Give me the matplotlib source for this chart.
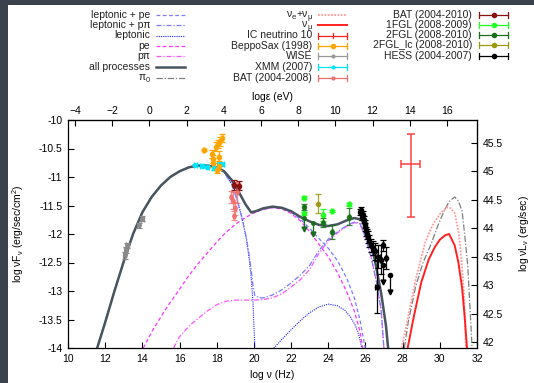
import matplotlib
matplotlib.use('Agg')
import matplotlib.pyplot as plt
from matplotlib.lines import Line2D
from matplotlib.patches import Rectangle
import numpy as np

plt.rcParams['font.family'] = ['Liberation Sans', 'DejaVu Sans']
plt.rcParams['mathtext.fontset'] = 'custom'
plt.rcParams['mathtext.rm'] = 'Liberation Sans'
plt.rcParams['mathtext.it'] = 'Liberation Sans'
plt.rcParams['mathtext.bf'] = 'Liberation Sans:bold'

# ---------------- model curves (log nu [Hz], log nuFnu) ----------------
all_x = [11.57, 12.0, 12.5, 13.0, 13.5, 14.0, 14.5, 15.0, 15.5, 16.0, 16.5, 17.0, 17.5, 18.0, 18.4,
         18.8, 19.2, 19.55, 19.85, 20.1, 20.5, 21.0, 21.5, 22.0, 22.5, 23.0, 23.5, 24.0, 24.5, 25.0,
         25.4, 25.8, 26.1, 26.5, 26.85, 27.1, 27.25]
all_y = [-14.0, -13.55, -13.0, -12.48, -12.0, -11.62, -11.35, -11.15, -11.0, -10.9, -10.83, -10.8, -10.8,
         -10.83, -10.9, -11.05, -11.27, -11.48, -11.62, -11.6, -11.55, -11.52, -11.54, -11.6, -11.7,
         -11.78, -11.84, -11.86, -11.83, -11.76, -11.72, -11.75, -11.95, -12.45, -13.05, -13.6, -14.1]

lep_x = [11.57, 12.0, 12.5, 13.0, 13.5, 14.0, 14.5, 15.0, 15.5, 16.0, 16.5, 17.0, 17.5, 18.0, 18.4,
         18.8, 19.1, 19.4, 19.6, 19.75, 19.85, 19.95, 20.05, 20.15, 20.9, 21.08, 21.5, 22.0, 22.5,
         23.0, 23.5, 24.0, 24.5, 24.9, 25.2, 25.45, 25.65, 25.8, 25.9]
lep_y = [-14.0, -13.55, -13.0, -12.48, -12.0, -11.62, -11.35, -11.15, -11.0, -10.9, -10.83, -10.8, -10.8,
         -10.84, -10.92, -11.12, -11.4, -11.78, -12.1, -12.45, -12.75, -13.2, -14.0, -14.6, -14.6,
         -14.0, -13.85, -13.68, -13.52, -13.38, -13.28, -13.23, -13.26, -13.34, -13.46, -13.6, -13.78,
         -14.0, -14.3]

pe_x = [14.05, 14.5, 15.0, 15.5, 16.0, 16.5, 17.0, 17.5, 18.0, 18.5, 19.0, 19.5, 20.0, 20.5, 21.0,
        21.5, 22.0, 22.5, 23.0, 23.5, 24.0, 24.5, 25.0, 25.4, 25.7, 25.9]
pe_y = [-14.0, -13.72, -13.45, -13.2, -12.97, -12.73, -12.52, -12.33, -12.14, -11.97, -11.83, -11.72,
        -11.63, -11.57, -11.54, -11.56, -11.64, -11.77, -11.96, -12.18, -12.4, -12.68, -13.02, -13.35,
        -13.7, -14.1]

ppi_x = [15.68, 16.0, 16.5, 17.0, 17.5, 18.0, 18.5, 19.0, 19.5, 20.0, 20.5, 21.0, 21.5, 22.0, 22.5,
         23.0, 23.5, 24.0, 24.5, 25.0, 25.4, 25.7, 26.0, 26.3, 26.6, 26.85, 27.0]
ppi_y = [-14.0, -13.8, -13.62, -13.48, -13.35, -13.24, -13.18, -13.16, -13.16, -13.16, -13.15, -13.12,
         -13.05, -12.93, -12.8, -12.62, -12.34, -12.12, -11.98, -11.86, -11.8, -11.82, -12.06, -12.4,
         -12.85, -13.35, -14.05]

lpe_x = [11.57, 12.0, 12.5, 13.0, 13.5, 14.0, 14.5, 15.0, 15.5, 16.0, 16.5, 17.0, 17.5, 18.0, 18.4,
         18.8, 19.2, 19.55, 19.85, 20.1, 20.5, 21.0, 21.5, 22.0, 22.5, 23.0, 23.5, 24.0, 24.5, 25.0,
         25.4, 25.7, 25.9, 26.05]
lpe_y = [-14.0, -13.55, -13.0, -12.48, -12.0, -11.62, -11.35, -11.15, -11.0, -10.9, -10.83, -10.8, -10.8,
         -10.84, -10.91, -11.06, -11.28, -11.49, -11.63, -11.61, -11.56, -11.53, -11.55, -11.62, -11.74,
         -11.9, -12.08, -12.25, -12.47, -12.78, -13.12, -13.5, -13.85, -14.1]

lppi_x = [11.57, 12.0, 12.5, 13.0, 13.5, 14.0, 14.5, 15.0, 15.5, 16.0, 16.5, 17.0, 17.5, 18.0, 18.4,
          18.8, 19.1, 19.4, 19.6, 19.75, 19.85, 19.95, 20.05, 20.3, 20.5, 21.0, 21.5, 22.0, 22.5, 23.0,
          23.5, 24.0, 24.5, 25.0, 25.4, 25.7, 26.0, 26.3, 26.6, 26.85, 27.0]
lppi_y = [-14.0, -13.55, -13.0, -12.48, -12.0, -11.62, -11.35, -11.15, -11.0, -10.9, -10.83, -10.8, -10.8,
          -10.84, -10.92, -11.12, -11.4, -11.77, -12.07, -12.38, -12.62, -12.9, -13.08, -13.12, -13.12,
          -13.07, -12.98, -12.86, -12.72, -12.55, -12.29, -12.09, -11.96, -11.85, -11.79, -11.81, -12.06,
          -12.4, -12.85, -13.35, -14.05]

pi0_x = [28.0, 28.3, 28.7, 29.1, 29.5, 29.9, 30.2, 30.5, 30.8, 31.0, 31.2, 31.35, 31.5, 31.68, 31.75]
pi0_y = [-14.2, -13.55, -12.92, -12.5, -12.2, -11.85, -11.62, -11.43, -11.35, -11.42, -11.6, -12.05,
         -12.55, -13.64, -14.1]

nue_x = [27.95, 28.3, 28.7, 29.2, 29.6, 30.0, 30.38, 30.6, 30.81, 31.0, 31.08, 31.2, 31.3, 31.4]
nue_y = [-14.0, -13.45, -12.8, -12.16, -11.85, -11.65, -11.53, -11.55, -11.64, -11.95, -12.16, -12.6,
         -13.05, -14.0]

numu_x = [28.27, 28.6, 29.0, 29.4, 29.73, 30.0, 30.3, 30.5, 30.8, 31.0, 31.2, 31.35, 31.46]
numu_y = [-14.0, -13.45, -12.85, -12.45, -12.23, -12.1, -12.02, -12.0, -12.2, -12.5, -12.95, -13.5, -14.0]

# ---------------- observational data ----------------
wise_x = [13.05, 13.1, 13.2, 13.8, 14.0]
wise_y = [-12.37, -12.28, -12.2, -11.85, -11.73]
wise_err = [0.06, 0.06, 0.04, 0.04, 0.04]

sax_x = [17.3, 17.75, 17.78, 17.82, 17.95, 18.05, 18.1, 18.12, 18.2, 18.3, 18.02]
sax_y = [-10.53, -10.6, -10.68, -10.75, -10.47, -10.42, -10.65, -10.8, -10.37, -10.32, -10.88]
sax_err = [0.02, 0.07, 0.07, 0.08, 0.08, 0.07, 0.1, 0.08, 0.08, 0.07, 0.05]

xmm_x = [16.85, 17.2, 17.5, 17.85, 18.1, 18.3]
xmm_y = [-10.79, -10.8, -10.82, -10.85, -10.78, -10.78]

bat8_x = [18.75, 18.9, 18.95, 19.1, 19.0]
bat8_y = [-11.35, -11.42, -11.68, -11.27, -11.55]
bat8_err = [0.1, 0.15, 0.08, 0.18, 0.12]

bat10_x = [18.92, 19.22]
bat10_y = [-11.14, -11.15]
bat10_err = [0.08, 0.08]

fgl1_x = [22.7, 22.7, 23.73, 24.2, 25.14]
fgl1_y = [-11.36, -11.64, -11.67, -11.6, -11.48]
fgl1_err = [0.03, 0.03, 0.1, 0.02, 0.03]

fgl2_x = [22.7, 23.73, 24.2, 25.14]
fgl2_y = [-11.53, -11.8, -11.97, -11.7]
fgl2_err = [0.05, 0.08, 0.12, 0.15]
fgl2_ul_x = [22.7, 23.2]
fgl2_ul_y = [-11.72, -11.8]

fgllc_x = [23.46]
fgllc_y = [-11.47]
fgllc_err = [0.17]

hess_x = [25.7, 25.75, 25.8, 25.85, 25.9, 25.95, 26.0, 26.05, 26.1, 26.15, 26.2, 26.3, 26.4, 26.5,
          26.6, 26.7, 26.85, 26.95, 27.1]
hess_y = [-11.62, -11.58, -11.7, -11.66, -11.75, -11.82, -11.88, -11.95, -12.0, -12.05, -12.12, -12.2,
          -12.25, -12.3, -12.93, -12.4, -12.45, -12.2, -12.42]
hess_err = [0.05, 0.05, 0.06, 0.06, 0.06, 0.07, 0.07, 0.08, 0.08, 0.1, 0.1, 0.12, 0.12, 0.15, 0.45,
            0.2, 0.25, 0.1, 0.2]
hess_ul_x = [26.97, 27.3]
hess_ul_y = [-12.55, -12.72]

icn_x = [28.43]
icn_y = [-10.78]
icn_xerr = [0.5]
icn_yerr_lo = [0.92]
icn_yerr_hi = [0.53]

E_OFFSET = 14.383   # log(h / eV s)
L_OFFSET = 55.9     # log(4 pi d^2)

xticks = list(range(10, 33, 2))
yticks = [-14, -13.5, -13, -12.5, -12, -11.5, -11, -10.5, -10]
eticks = list(range(-4, 17, 2))
lticks = [42, 42.5, 43, 43.5, 44, 44.5, 45, 45.5]

# ---------------- figure ----------------
W, H = 534, 383
fig = plt.figure(figsize=(W / 100, H / 100), dpi=100)
fig.patch.set_facecolor('#3a424c')
fig.add_artist(Rectangle((8 / W, 0), 1, (H - 5) / H, transform=fig.transFigure,
                         facecolor='white', edgecolor='none', zorder=-10))
ax = fig.add_axes([68 / W, 1 - 348 / H, (477 - 68) / W, (348 - 120) / H])

C_LPE = '#7b7bff'
C_LEP = '#2222ff'
C_PE = '#ff33ff'
C_PPI = '#ff55ff'
C_ALL = '#46555f'
C_PI0 = '#808080'
C_NUE = '#ff9a9a'
C_NUMU = '#ff2020'

ax.plot(pe_x, pe_y, color=C_PE, ls=(0, (3, 2)), lw=0.9)
ax.plot(ppi_x, ppi_y, color=C_PPI, ls=(0, (4, 1.5, 1, 1.5)), lw=0.9)
ax.plot(lep_x, lep_y, color=C_LEP, ls=(0, (1, 1)), lw=0.8)
ax.plot(lpe_x, lpe_y, color=C_LPE, ls=(0, (3, 2)), lw=0.9)
ax.plot(lppi_x, lppi_y, color=C_LPE, ls=(0, (4, 1.5, 1, 1.5)), lw=0.9)
ax.plot(all_x, all_y, color=C_ALL, lw=1.8, zorder=3)
ax.plot(pi0_x, pi0_y, color=C_PI0, ls=(0, (5, 1.5, 1, 1.5)), lw=0.9)
ax.plot(nue_x, nue_y, color=C_NUE, ls=(0, (1, 0.8)), lw=1.3)
ax.plot(numu_x, numu_y, color=C_NUMU, lw=1.4)

def eb(x, y, yerr, color, ms=3, xerr=None, alpha=1.0, marker='o'):
    ax.errorbar(x, y, yerr=yerr, xerr=xerr, fmt=marker, color=color, ms=ms, lw=0.9,
                capsize=2.5, capthick=0.9, alpha=alpha, zorder=5)

eb(wise_x, wise_y, wise_err, '#8a8a8a', ms=2.5, xerr=0.08)
eb(xmm_x, xmm_y, 0.02, '#00e5ff', ms=2.5, xerr=0.08)
eb(sax_x, sax_y, sax_err, '#ffa500', ms=3, xerr=0.03)
eb(bat8_x, bat8_y, bat8_err, '#f07070', ms=2.5, xerr=0.05, alpha=0.8)
eb(bat10_x, bat10_y, bat10_err, '#8b1010', ms=3, xerr=0.05)
eb(fgl1_x, fgl1_y, fgl1_err, '#22ff22', ms=3, xerr=0.05)
eb(fgl2_x, fgl2_y, fgl2_err, '#1a6e1a', ms=3, xerr=0.05, alpha=0.85)
ax.errorbar(fgl2_ul_x, fgl2_ul_y, yerr=[[0.2] * len(fgl2_ul_x), [0] * len(fgl2_ul_x)],
            fmt='o', color='#1a6e1a', ms=2.5, lw=0.9, zorder=5)
ax.plot(fgl2_ul_x, np.array(fgl2_ul_y) - 0.2, 'v', color='#1a6e1a', ms=3.5, zorder=5)
eb(fgllc_x, fgllc_y, fgllc_err, '#9a9a10', ms=3, alpha=0.9)
eb(hess_x, hess_y, hess_err, '#000000', ms=3, xerr=0.06)
ax.errorbar(hess_ul_x, hess_ul_y, yerr=[[0.3] * len(hess_ul_x), [0] * len(hess_ul_x)],
            fmt='o', color='black', ms=3, lw=0.9, zorder=5)
ax.plot(hess_ul_x, np.array(hess_ul_y) - 0.3, 'v', color='black', ms=3.5, zorder=5)
ax.errorbar(icn_x, icn_y, xerr=icn_xerr, yerr=[icn_yerr_lo, icn_yerr_hi], fmt='none',
            color='#ff4040', lw=1.1, capsize=3, capthick=1.1, zorder=5)

ax.set_xlim(10, 32)
ax.set_ylim(-14, -10)
ax.set_xticks(xticks)
ax.set_yticks(yticks)
ax.set_yticklabels(['-14', '-13.5', '-13', '-12.5', '-12', '-11.5', '-11', '-10.5', '-10'])
ax.tick_params(direction='in', length=4, width=0.8, labelsize=7.5, top=False, right=False, pad=4)
for s in ax.spines.values():
    s.set_linewidth(0.9)
ax.set_xlabel('log ν (Hz)', fontsize=7.5, labelpad=5)
ax.set_ylabel(r'log νF$_ν$ (erg/sec/cm$^2$)', fontsize=7.5)
ax.yaxis.set_label_coords(-0.103, 0.5)

secx = ax.secondary_xaxis('top', functions=(lambda x: x - E_OFFSET, lambda x: x + E_OFFSET))
secx.set_xticks(eticks)
secx.tick_params(direction='in', length=4, width=0.8, labelsize=7.5, pad=3)
secx.set_xlabel('logε (eV)', fontsize=7.5, labelpad=4)

secy = ax.secondary_yaxis('right', functions=(lambda y: y + L_OFFSET, lambda y: y - L_OFFSET))
secy.set_yticks(lticks)
secy.set_yticklabels(['42', '42.5', '43', '43.5', '44', '44.5', '45', '45.5'])
secy.tick_params(direction='in', length=4, width=0.8, labelsize=7.5, pad=4)
secy.set_ylabel(r'log νL$_ν$ (erg/sec)', fontsize=7.5, labelpad=10)

# ---------------- legend (drawn by hand, gnuplot style) ----------------
renderer = fig.canvas.get_renderer()

def fx(px):
    return px / W

def fy(py):
    return 1 - py / H

def leg_text(xr, y, s, size=7.5):
    fig.text(fx(xr), fy(y), s, ha='right', va='center', fontsize=size, color='#222222')

def leg_rich(xr, y, pieces):
    """pieces: list of (text, fontsize, baseline drop in px); right aligned at xr."""
    base = y + 3.0
    x = xr
    for s, size, drop in reversed(pieces):
        t = fig.text(fx(x), fy(base + drop), s, ha='right', va='baseline', fontsize=size,
                     color='#222222')
        w = t.get_window_extent(renderer).width
        x -= w

def leg_line(xr, y, color, ls='-', lw=0.9):
    fig.add_artist(Line2D([fx(xr - 29), fx(xr)], [fy(y), fy(y)], color=color, ls=ls, lw=lw,
                          transform=fig.transFigure))

def leg_err(xr, y, color, marker='o', ms=3):
    fig.add_artist(Line2D([fx(xr - 29), fx(xr)], [fy(y), fy(y)], color=color, lw=0.9,
                          transform=fig.transFigure))
    for xc in (xr - 29, xr):
        fig.add_artist(Line2D([fx(xc), fx(xc)], [fy(y - 3), fy(y + 3)], color=color, lw=0.9,
                              transform=fig.transFigure))
    if marker == '|':
        fig.add_artist(Line2D([fx(xr - 14.5), fx(xr - 14.5)], [fy(y - 2.5), fy(y + 2.5)], color=color,
                              lw=0.9, transform=fig.transFigure))
    else:
        fig.add_artist(Line2D([fx(xr - 14.5)], [fy(y)], color=color, marker=marker, ms=ms,
                              transform=fig.transFigure))

rows = [15, 25.3, 35.5, 45.7, 56, 67, 77.7]
c1_text, c1_line = 150, 185
leg_text(c1_text, rows[0], 'leptonic + pe'); leg_line(c1_line, rows[0], C_LPE, (0, (3, 2)))
leg_text(c1_text, rows[1], 'leptonic + pπ'); leg_line(c1_line, rows[1], C_LPE, (0, (4, 1.5, 1, 1.5)))
leg_text(c1_text, rows[2], 'leptonic'); leg_line(c1_line, rows[2], C_LEP, (0, (1, 1)), 0.8)
leg_text(c1_text, rows[3], 'pe'); leg_line(c1_line, rows[3], C_PE, (0, (3, 2)))
leg_text(c1_text, rows[4], 'pπ'); leg_line(c1_line, rows[4], C_PPI, (0, (4, 1.5, 1, 1.5)))
leg_text(c1_text, rows[5], 'all processes'); leg_line(c1_line, rows[5], C_ALL, '-', 1.8)
leg_rich(c1_text, rows[6] - 1, [('π', 7.5, 0), ('0', 5.5, 2)])
leg_line(c1_line, rows[6], C_PI0, (0, (5, 1.5, 1, 1.5)))

c2_text, c2_line = 312, 347
leg_rich(c2_text, rows[0] - 1, [('ν', 7.5, 0), ('e', 5.5, 2), ('+', 7.5, 0), ('ν', 7.5, 0),
                                 ('μ', 5.5, 2)])
leg_line(c2_line, rows[0], C_NUE, (0, (1, 0.8)), 1.3)
leg_rich(c2_text, rows[1] - 1, [('ν', 7.5, 0), ('μ', 5.5, 2)])
leg_line(c2_line, rows[1], C_NUMU, '-', 1.4)
leg_text(c2_text, rows[2], 'IC neutrino 10'); leg_err(c2_line, rows[2], '#ff2020', '|')
leg_text(c2_text, rows[3], 'BeppoSax (1998)'); leg_err(c2_line, rows[3], '#ffa500', 'o', 3)
leg_text(c2_text, rows[4], 'WISE'); leg_err(c2_line, rows[4], '#999999', 'o', 2)
leg_text(c2_text, rows[5], 'XMM (2007)'); leg_err(c2_line, rows[5], '#00e5ff', 'o', 2)
leg_text(c2_text, rows[6], 'BAT (2004-2008)'); leg_err(c2_line, rows[6], '#f07070', 'o', 2)

c3_text, c3_line = 472, 508
rows3 = [15, 25, 35, 45, 56]
leg_text(c3_text, rows3[0], 'BAT (2004-2010)'); leg_err(c3_line, rows3[0], '#8b1010', 'o', 3)
leg_text(c3_text, rows3[1], '1FGL (2008-2009)'); leg_err(c3_line, rows3[1], '#22ff22', 'o', 3)
leg_text(c3_text, rows3[2], '2FGL (2008-2010)'); leg_err(c3_line, rows3[2], '#1a6e1a', 'o', 3)
leg_text(c3_text, rows3[3], '2FGL_lc (2008-2010)'); leg_err(c3_line, rows3[3], '#9a9a10', 'o', 3)
leg_text(c3_text, rows3[4], 'HESS (2004-2007)'); leg_err(c3_line, rows3[4], '#000000', 'o', 3)

fig.savefig('out.png', dpi=100, facecolor=fig.get_facecolor())
